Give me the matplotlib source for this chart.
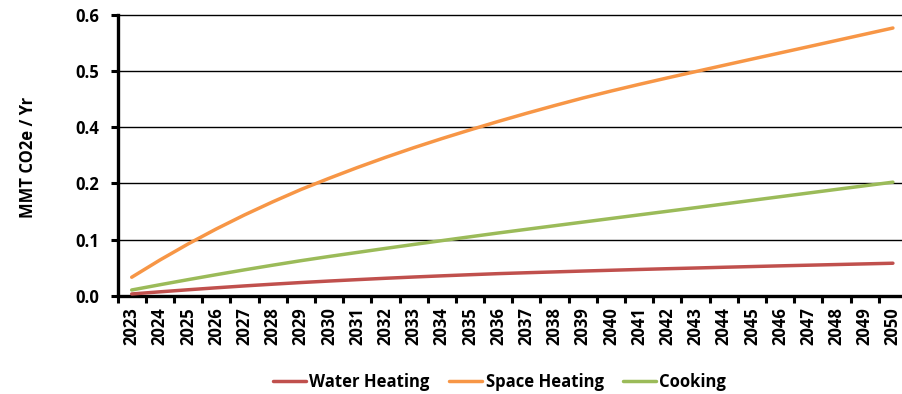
import matplotlib
matplotlib.use("Agg")
import matplotlib.pyplot as plt
from matplotlib.ticker import FixedLocator, FormatStrFormatter, NullFormatter
import numpy as np

years = list(range(2023, 2051))
series_names = ["Water Heating", "Space Heating", "Cooking"]
water_heating = [0.0043, 0.0089, 0.0133, 0.0175, 0.0215, 0.0252, 0.0287, 0.0319,
                 0.0349, 0.0378, 0.0405, 0.0430, 0.0454, 0.0477, 0.0496, 0.0514,
                 0.0532, 0.0549, 0.0566, 0.0582, 0.0597, 0.0613, 0.0628, 0.0643,
                 0.0657, 0.0671, 0.0685, 0.0699]
space_heating = [0.0400, 0.0767, 0.1110, 0.1430, 0.1729, 0.2008, 0.2271, 0.2510,
                 0.2739, 0.2956, 0.3162, 0.3357, 0.3543, 0.3723, 0.3896, 0.4062,
                 0.4222, 0.4371, 0.4514, 0.4652, 0.4786, 0.4920, 0.5053, 0.5185,
                 0.5317, 0.5450, 0.5583, 0.5716]
cooking = [0.0128, 0.0240, 0.0349, 0.0455, 0.0558, 0.0657, 0.0753, 0.0843,
           0.0929, 0.1015, 0.1099, 0.1181, 0.1263, 0.1344, 0.1422, 0.1499,
           0.1576, 0.1653, 0.1730, 0.1807, 0.1884, 0.1962, 0.2040, 0.2118,
           0.2196, 0.2274, 0.2351, 0.2428]
y_max = 0.6
y_step = 0.12
y_label = "MMT CO2e / Yr"

colors = ["#C0504D", "#F79646", "#9BBB59"]
FONT = "Open Sans"
FS = 12

plt.rcParams["font.family"] = [FONT, "DejaVu Sans"]
plt.rcParams["font.weight"] = "bold"

W, H = 903, 394
fig = plt.figure(figsize=(W / 100, H / 100), dpi=100)
ax = fig.add_axes([117.6 / W, (H - 296) / H, (907 - 117.6) / W, (296 - 14.7) / H])

x = np.arange(len(years))
for name, vals, c in zip(series_names, [water_heating, space_heating, cooking], colors):
    ax.plot(x, vals, color=c, lw=2.5, label=name, solid_capstyle="round", zorder=3)

ax.set_xlim(-0.5, len(years) - 0.5)
ax.set_ylim(0, y_max)

# y axis: fixed major unit, one-decimal labels
ax.yaxis.set_major_locator(FixedLocator(np.arange(0, y_max + 1e-9, y_step)))
ax.yaxis.set_major_formatter(FormatStrFormatter("%.1f"))
ax.grid(axis="y", color="black", lw=1.0)
for gl in ax.get_ygridlines():
    gl.set_clip_on(False)
ax.set_axisbelow(True)

# x axis: tick marks between categories, labels at category centres
ax.xaxis.set_major_locator(FixedLocator(np.arange(-0.5, len(years), 1.0)))
ax.xaxis.set_major_formatter(NullFormatter())
ax.set_xticks(x, [str(y) for y in years], minor=True)
ax.tick_params(axis="x", which="major", direction="out", length=5, width=2.2, color="black")
ax.tick_params(axis="x", which="minor", length=0, pad=8, labelsize=FS, labelrotation=90)
ax.tick_params(axis="y", direction="out", length=5, width=2.2, pad=8, labelsize=FS)
for lbl in ax.get_xticklabels(minor=True) + ax.get_yticklabels():
    lbl.set_fontweight("bold")

for side in ["top", "right"]:
    ax.spines[side].set_visible(False)
for side in ["left", "bottom"]:
    ax.spines[side].set_linewidth(2.4)
    ax.spines[side].set_color("black")

fig.text(28 / W, 1 - 157 / H, y_label, rotation=90, ha="center", va="center",
         fontsize=FS, fontweight="bold")

leg = fig.legend(loc="center", bbox_to_anchor=(499.5 / W, 1 - 381.7 / H), ncol=3,
                 frameon=False, handlelength=2.0, handletextpad=0.2,
                 columnspacing=1.15, prop={"weight": "bold", "size": FS})

fig.savefig("out.png", dpi=100)
